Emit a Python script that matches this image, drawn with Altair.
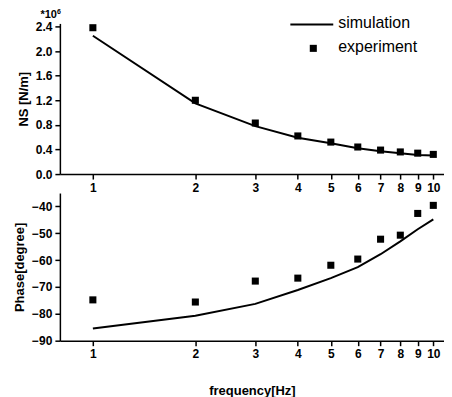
import altair as alt
import pandas as pd

freq = [1, 2, 3, 4, 5, 6, 7, 8, 9, 10]
ns_sim = [2.25, 1.15, 0.78, 0.59, 0.50, 0.42, 0.37, 0.34, 0.31, 0.30]
ns_exp = [2.38, 1.20, 0.83, 0.62, 0.52, 0.44, 0.39, 0.36, 0.34, 0.32]
ph_sim = [-85.5, -80.7, -76.3, -71.1, -66.7, -62.6, -57.8, -53.0, -48.5, -44.8]
ph_exp = [-74.8, -75.6, -67.8, -66.7, -61.9, -59.6, -52.2, -50.7, -42.6, -39.6]
x_ticks = [1, 2, 3, 4, 5, 6, 7, 8, 9, 10]
ns_ticks = [0.0, 0.4, 0.8, 1.2, 1.6, 2.0, 2.4]
ph_ticks = [-90, -80, -70, -60, -50, -40]
legend_labels = ["simulation", "experiment"]

FONT = "Liberation Sans"
W = 385

df = pd.DataFrame({"freq": freq, "ns_sim": ns_sim, "ns_exp": ns_exp,
                   "ph_sim": ph_sim, "ph_exp": ph_exp})

xscale = alt.Scale(type="log", domain=[0.80, 10.75], nice=False)


def xaxis(title):
    return alt.Axis(values=x_ticks, format="d", title=title,
                    titlePadding=25, labelOverlap=False)


ns_axis = alt.Axis(values=ns_ticks, format=".1f", title="NS [N/m]", labelOverlap=False)
ph_axis = alt.Axis(values=ph_ticks, format="d", title="Phase[degree]", labelOverlap=False)

# top panel
ns_y = alt.Scale(domain=[0, 2.45], nice=False, zero=False)
top_line = alt.Chart(df).mark_line(color="black", strokeWidth=2).encode(
    x=alt.X("freq:Q", scale=xscale, axis=xaxis(None)),
    y=alt.Y("ns_sim:Q", scale=ns_y, axis=ns_axis),
)
top_pts = alt.Chart(df).mark_point(shape="square", filled=True, color="black",
                                   size=50, opacity=1).encode(
    x=alt.X("freq:Q", scale=xscale, axis=xaxis(None)),
    y=alt.Y("ns_exp:Q", scale=ns_y, axis=ns_axis),
)
leg_df = pd.DataFrame({"label": legend_labels})
leg_line = alt.Chart(leg_df).transform_filter(alt.datum.label == legend_labels[0]).mark_rule(
    color="black", strokeWidth=2).encode(
    x=alt.value(231), x2=alt.value(274), y=alt.value(1))
leg_sq = alt.Chart(leg_df).transform_filter(alt.datum.label == legend_labels[1]).mark_point(
    shape="square", filled=True, color="black", size=50, opacity=1).encode(
    x=alt.value(254), y=alt.value(25))
leg_txt1 = alt.Chart(leg_df).transform_filter(alt.datum.label == legend_labels[0]).mark_text(
    align="left", baseline="middle", font=FONT, fontSize=16, color="black").encode(
    x=alt.value(279), y=alt.value(0), text="label:N")
leg_txt2 = alt.Chart(leg_df).transform_filter(alt.datum.label == legend_labels[1]).mark_text(
    align="left", baseline="middle", font=FONT, fontSize=16, color="black").encode(
    x=alt.value(279), y=alt.value(24), text="label:N")
mult_df = pd.DataFrame({"t": ["*10"], "s": ["6"]})
mult = alt.Chart(mult_df).mark_text(align="right", baseline="bottom", font=FONT,
                                    fontSize=11, fontWeight="bold", color="black").encode(
    x=alt.value(-3), y=alt.value(-3), text="t:N")
mult6 = alt.Chart(mult_df).mark_text(align="left", baseline="bottom", font=FONT,
                                     fontSize=7, fontWeight="bold", color="black").encode(
    x=alt.value(-3), y=alt.value(-8), text="s:N")

top = alt.layer(top_line, top_pts, leg_line, leg_sq, leg_txt1, leg_txt2, mult, mult6
                ).properties(width=W, height=151)

# bottom panel
ph_y = alt.Scale(domain=[-90, -35], nice=False, zero=False)
bot_line = alt.Chart(df).mark_line(color="black", strokeWidth=2).encode(
    x=alt.X("freq:Q", scale=xscale, axis=xaxis("frequency[Hz]")),
    y=alt.Y("ph_sim:Q", scale=ph_y, axis=ph_axis),
)
bot_pts = alt.Chart(df).mark_point(shape="square", filled=True, color="black",
                                   size=50, opacity=1).encode(
    x=alt.X("freq:Q", scale=xscale, axis=xaxis("frequency[Hz]")),
    y=alt.Y("ph_exp:Q", scale=ph_y, axis=ph_axis),
)
bot = alt.layer(bot_line, bot_pts).properties(width=W, height=148)

chart = alt.vconcat(top, bot, spacing=19, bounds="flush").properties(
    padding={"left": 5, "top": 0, "right": 0, "bottom": 0}
).configure_view(
    stroke=None
).configure_axis(
    grid=False, domainColor="black", domainWidth=1.5, tickColor="black",
    tickWidth=1.5, tickSize=5, labelFont=FONT, labelFontSize=12,
    labelFontWeight="bold", labelColor="black", titleFont=FONT,
    titleFontSize=13, titleFontWeight="bold", titleColor="black",
    labelPadding=3
).configure_axisY(titlePadding=5)

chart.save("out.html", embed_options={"renderer": "svg", "actions": False})
